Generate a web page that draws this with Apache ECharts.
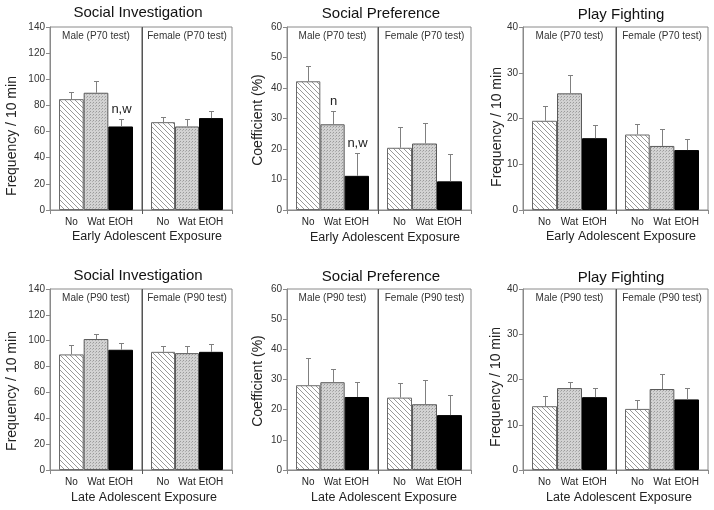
<!DOCTYPE html>
<html><head><meta charset="utf-8">
<script src="https://cdn.jsdelivr.net/npm/echarts@6/dist/echarts.min.js"></script>
<style>html,body{margin:0;padding:0;background:#fff}#c{width:714px;height:510px}</style>
</head><body><div id="c"></div>
<script>
// ---------------- DATA ----------------
const groups = ['No', 'Wat', 'EtOH'];
const panelTitles = ['Social Investigation', 'Social Preference', 'Play Fighting'];
const yNames = ['Frequency / 10 min', 'Coefficient (%)', 'Frequency / 10 min'];
const yMaxes = [140, 60, 40];
const yIntervals = [20, 10, 10];
const rowXTitles = ['Early Adolescent Exposure', 'Late Adolescent Exposure'];
const rowTests = ['P70', 'P90'];

// Early adolescent exposure (P70 test)
const siEarlyMale = [84.8, 89.7, 63.9];
const siEarlyMaleErr = [5.6, 8.7, 5.6];
const siEarlyMaleAnn = ['', '', 'n,w'];
const siEarlyFemale = [67.2, 63.9, 70.3];
const siEarlyFemaleErr = [4.3, 6.1, 5.6];

const spEarlyMale = [42.2, 28.1, 11.2];
const spEarlyMaleErr = [4.9, 4.5, 7.5];
const spEarlyMaleAnn = ['', 'n', 'n,w'];
const spEarlyFemale = [20.4, 21.8, 9.4];
const spEarlyFemaleErr = [6.9, 6.7, 9.1];

const pfEarlyMale = [19.5, 25.5, 15.7];
const pfEarlyMaleErr = [3.2, 4.1, 2.8];
const pfEarlyFemale = [16.5, 14.0, 13.1];
const pfEarlyFemaleErr = [2.3, 3.6, 2.5];

// Late adolescent exposure (P90 test)
const siLateMale = [89.4, 101.3, 93.0];
const siLateMaleErr = [7.2, 3.6, 5.2];
const siLateFemale = [91.4, 90.4, 91.4];
const siLateFemaleErr = [4.7, 5.7, 5.7];

const spLateMale = [28.1, 29.1, 24.2];
const spLateMaleErr = [9.0, 4.4, 5.1];
const spLateFemale = [24.0, 21.8, 18.2];
const spLateFemaleErr = [4.7, 8.1, 6.5];

const pfLateMale = [14.1, 18.1, 16.1];
const pfLateMaleErr = [2.2, 1.4, 2.0];
const pfLateFemale = [13.5, 17.9, 15.6];
const pfLateFemaleErr = [2.0, 3.3, 2.5];

const noAnn = ['', '', ''];

const panels = [
  {row: 0, col: 0, male: siEarlyMale, maleErr: siEarlyMaleErr, maleAnn: siEarlyMaleAnn, female: siEarlyFemale, femaleErr: siEarlyFemaleErr, femaleAnn: noAnn},
  {row: 0, col: 1, male: spEarlyMale, maleErr: spEarlyMaleErr, maleAnn: spEarlyMaleAnn, female: spEarlyFemale, femaleErr: spEarlyFemaleErr, femaleAnn: noAnn},
  {row: 0, col: 2, male: pfEarlyMale, maleErr: pfEarlyMaleErr, maleAnn: noAnn, female: pfEarlyFemale, femaleErr: pfEarlyFemaleErr, femaleAnn: noAnn},
  {row: 1, col: 0, male: siLateMale, maleErr: siLateMaleErr, maleAnn: noAnn, female: siLateFemale, femaleErr: siLateFemaleErr, femaleAnn: noAnn},
  {row: 1, col: 1, male: spLateMale, maleErr: spLateMaleErr, maleAnn: noAnn, female: spLateFemale, femaleErr: spLateFemaleErr, femaleAnn: noAnn},
  {row: 1, col: 2, male: pfLateMale, maleErr: pfLateMaleErr, maleAnn: noAnn, female: pfLateFemale, femaleErr: pfLateFemaleErr, femaleAnn: noAnn}
];

// ---------------- LAYOUT / STYLE ----------------
const FONT = '"Liberation Sans", Arial, Helvetica, sans-serif';
const COLS = [{left: 50, div: 142, right: 232}, {left: 287, div: 378, right: 471}, {left: 523, div: 616, right: 708}];
const ROWS = [{top: 27, bottom: 210}, {top: 289, bottom: 470}];
const INSET = 9;
const FRAME = '#8a8a8a';
const DIVIDER = '#555';
const ERR = '#808080';
const CAP = 2.5;
// text anchor positions per panel [row][col]
const TITLE_POS = [[[138, 12.5], [381, 14], [621, 15]], [[138, 276], [381, 277], [621, 278]]];
const XTITLE_POS = [[[147, 237], [385, 238], [621, 237]], [[144, 498], [384, 498], [619, 498]]];
const YNAME_POS = [[[12, 136], [258, 120], [497, 127]], [[12, 391], [258, 381], [496, 387]]];
const HEADER_Y = [36, 298];

function hatchCanvas() {
  const s = 5, c = document.createElement('canvas');
  c.width = s; c.height = s;
  const g = c.getContext('2d');
  g.fillStyle = '#fff'; g.fillRect(0, 0, s, s);
  g.strokeStyle = '#999'; g.lineWidth = 1;
  for (const k of [-s, 0, s]) { g.beginPath(); g.moveTo(k, 0); g.lineTo(k + s, s); g.stroke(); }
  return c;
}
function dotCanvas() {
  const s = 3, c = document.createElement('canvas');
  c.width = s; c.height = s;
  const g = c.getContext('2d');
  g.fillStyle = '#d2d2d2'; g.fillRect(0, 0, s, s);
  g.fillStyle = '#9a9a9a'; g.fillRect(0, 0, 1, 1);
  g.fillStyle = '#b0b0b0'; g.fillRect(2, 1, 1, 1);
  return c;
}
const barStyles = [
  {color: {image: hatchCanvas(), repeat: 'repeat'}, borderColor: '#6a6a6a', borderWidth: 1},
  {color: {image: dotCanvas(), repeat: 'repeat'}, borderColor: '#5a5a5a', borderWidth: 1},
  {color: '#000', borderColor: '#000', borderWidth: 1}
];

const grid = [], xAxis = [], yAxis = [], series = [], graphic = [];

panels.forEach(p => {
  const col = COLS[p.col], row = ROWS[p.row];
  const h = row.bottom - row.top;
  const ymax = yMaxes[p.col], yint = yIntervals[p.col];
  const sections = [
    {l: col.left, r: col.div, vals: p.male, err: p.maleErr, ann: p.maleAnn, name: 'Male (' + rowTests[p.row] + ' test)'},
    {l: col.div, r: col.right, vals: p.female, err: p.femaleErr, ann: p.femaleAnn, name: 'Female (' + rowTests[p.row] + ' test)'}
  ];
  sections.forEach((s, si) => {
    const fg = grid.length;
    grid.push({left: s.l, top: row.top, width: s.r - s.l, height: h, show: true, borderColor: FRAME, borderWidth: 1,
      backgroundColor: 'transparent', containLabel: false, outerBoundsMode: 'none'});
    xAxis.push({gridIndex: fg, type: 'category', data: [''], boundaryGap: true,
      axisLine: {show: true, lineStyle: {color: FRAME}}, axisTick: {show: true, length: 4, lineStyle: {color: FRAME}},
      axisLabel: {show: false}, splitLine: {show: false}});
    yAxis.push({gridIndex: fg, type: 'value', min: 0, max: ymax, interval: yint, show: si === 0,
      axisLine: {show: true, lineStyle: {color: FRAME}}, axisTick: {show: true, length: 4, lineStyle: {color: FRAME}},
      axisLabel: {fontSize: 10, color: '#333', margin: 5, fontFamily: FONT}, splitLine: {show: false}});

    const bg = grid.length;
    grid.push({left: s.l + INSET, top: row.top, width: s.r - s.l - 2 * INSET, height: h, show: false,
      containLabel: false, outerBoundsMode: 'none'});
    xAxis.push({gridIndex: bg, type: 'category', data: groups, boundaryGap: true,
      axisLine: {show: false}, axisTick: {show: false}, splitLine: {show: false},
      axisLabel: {fontSize: 10, color: '#222', margin: 7, fontFamily: FONT, interval: 0}});
    yAxis.push({gridIndex: bg, type: 'value', min: 0, max: ymax, interval: yint, show: false, splitLine: {show: false}});

    series.push({type: 'bar', xAxisIndex: bg, yAxisIndex: bg, barCategoryGap: '0%', barGap: '0%',
      data: s.vals.map((v, i) => ({value: v, itemStyle: barStyles[i]})), z: 2, silent: true});

    const ann = s.ann;
    series.push({type: 'custom', xAxisIndex: bg, yAxisIndex: bg, z: 3, silent: true,
      data: s.vals.map((v, i) => [i, v, v + s.err[i]]),
      renderItem: function (params, api) {
        const i = api.value(0);
        const base = api.coord([i, api.value(1)]);
        const top = api.coord([i, api.value(2)]);
        const x = Math.round(top[0]) + 0.5;
        const yt = Math.round(top[1]) + 0.5;
        const children = [
          {type: 'line', shape: {x1: x, y1: base[1], x2: x, y2: yt}, style: {stroke: ERR, lineWidth: 1}},
          {type: 'line', shape: {x1: x - CAP, y1: yt, x2: x + CAP, y2: yt}, style: {stroke: ERR, lineWidth: 1}}
        ];
        const a = ann[params.dataIndex];
        if (a) children.push({type: 'text', style: {text: a, x: x, y: yt - 4, align: 'center', verticalAlign: 'bottom',
          fontSize: 13, fontFamily: FONT, fill: '#222'}});
        return {type: 'group', children: children};
      }});

    graphic.push({type: 'text', x: (s.l + s.r) / 2, y: HEADER_Y[p.row], silent: true,
      style: {text: s.name, align: 'center', verticalAlign: 'middle', fontSize: 10, fontFamily: FONT, fill: '#333'}});
  });

  // divider
  graphic.push({type: 'line', silent: true, shape: {x1: col.div + 0.5, y1: row.top, x2: col.div + 0.5, y2: row.bottom + 4},
    style: {stroke: DIVIDER, lineWidth: 1}, z: 10});

  const tp = TITLE_POS[p.row][p.col], xp = XTITLE_POS[p.row][p.col], yp = YNAME_POS[p.row][p.col];
  graphic.push({type: 'text', x: tp[0], y: tp[1], silent: true,
    style: {text: panelTitles[p.col], align: 'center', verticalAlign: 'middle', fontSize: 15, fontFamily: FONT, fill: '#111'}});
  graphic.push({type: 'text', x: xp[0], y: xp[1], silent: true,
    style: {text: rowXTitles[p.row], align: 'center', verticalAlign: 'middle', fontSize: 12.5, fontFamily: FONT, fill: '#222'}});
  graphic.push({type: 'text', x: yp[0], y: yp[1], rotation: Math.PI / 2, silent: true,
    style: {text: yNames[p.col], align: 'center', verticalAlign: 'middle', fontSize: 14, fontFamily: FONT, fill: '#222'}});
});

const chart = echarts.init(document.getElementById('c'), null, {renderer: 'canvas'});
chart.setOption({
  backgroundColor: '#fff',
  animation: false,
  grid: grid, xAxis: xAxis, yAxis: yAxis, series: series, graphic: graphic
});
</script>
</body></html>
